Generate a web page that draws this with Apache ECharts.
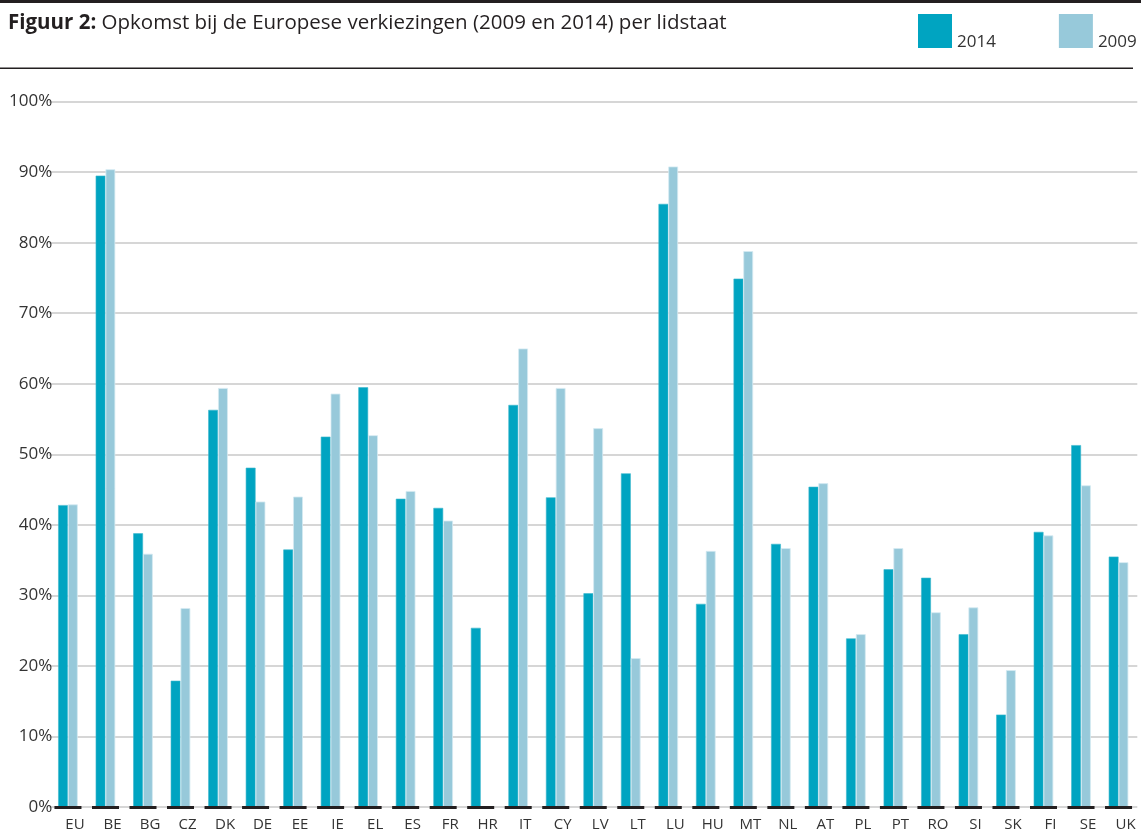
<!DOCTYPE html>
<html>
<head>
<meta charset="utf-8">
<script src="https://cdn.jsdelivr.net/npm/echarts@6/dist/echarts.min.js"></script>
<style>
html,body{margin:0;padding:0;background:#fff;}
#chart{width:1141px;height:832px;}
</style>
</head>
<body>
<div id="chart"></div>
<script>
const categories = ['EU','BE','BG','CZ','DK','DE','EE','IE','EL','ES','FR','HR','IT','CY','LV','LT','LU','HU','MT','NL','AT','PL','PT','RO','SI','SK','FI','SE','UK'];
const turnout2014 = [42.8,89.5,38.8,17.9,56.3,48.1,36.5,52.5,59.5,43.7,42.4,25.4,57.0,43.9,30.3,47.3,85.5,28.8,74.9,37.3,45.4,23.9,33.7,32.5,24.5,13.1,39.0,51.3,35.5];
const turnout2009 = [42.9,90.4,35.9,28.2,59.4,43.3,44.0,58.6,52.7,44.8,40.6,null,65.0,59.4,53.7,21.1,90.8,36.3,78.8,36.7,45.9,24.5,36.7,27.6,28.3,19.4,38.5,45.6,34.7];
const seriesNames = ['2014','2009'];
const yTicks = {min:0, max:100, interval:10};
const titleMain = 'Figuur 2:';
const titleRest = ' Opkomst bij de Europese verkiezingen (2009 en 2014) per lidstaat';

const FONT = '"Open Sans", sans-serif';
const chart = echarts.init(document.getElementById('chart'));
chart.setOption({
  animation:false,
  backgroundColor:'#fff',
  textStyle:{fontFamily:FONT},
  title:{
    left:8, top:13, padding:0,
    text:'{b|'+titleMain+'}{n|'+titleRest+'}',
    textStyle:{
      rich:{
        b:{fontFamily:FONT,fontWeight:'bold',fontSize:20.5,color:'#231f20'},
        n:{fontFamily:FONT,fontWeight:'normal',fontSize:20.5,color:'#231f20'}
      }
    }
  },
  graphic:[
    {type:'rect',shape:{x:0,y:0,width:1141,height:3},style:{fill:'#231f20'}},
    {type:'rect',shape:{x:0,y:67.5,width:1133,height:1.6},style:{fill:'#231f20'}}
  ],
  legend:{
    data:seriesNames,
    left:918, top:14, padding:0,
    itemWidth:34, itemHeight:34, itemGap:63,
    icon:'rect',
    itemStyle:{borderWidth:0},
    formatter:'{a|{name}}',
    textStyle:{fontFamily:FONT,fontSize:17,color:'#333',
      rich:{a:{fontFamily:FONT,fontSize:17,color:'#333',padding:[22,0,0,0]}}}
  },
  grid:{left:49.2, right:3.7, top:101.6, bottom:23.7},
  xAxis:{
    type:'category',
    data:categories,
    axisLine:{show:false},
    axisTick:{show:false},
    axisLabel:{color:'#333',fontSize:15,margin:10,fontFamily:FONT,padding:[0,0,0,14]}
  },
  yAxis:{
    type:'value',
    min:yTicks.min, max:yTicks.max, interval:yTicks.interval,
    axisLine:{show:false},
    axisTick:{show:false},
    axisLabel:{color:'#333',fontSize:17,margin:-3,fontFamily:FONT,formatter:'{value}%',padding:[8,0,0,0]},
    splitLine:{lineStyle:{color:'#c8c8c8',width:1.5}}
  },
  series:[
    {name:seriesNames[0],type:'bar',data:turnout2014,barWidth:9.8,barGap:'0%',
     itemStyle:{color:'#00a4c1',borderColor:'#3cb7cd',borderWidth:0.6}},
    {name:seriesNames[1],type:'bar',data:turnout2009,barWidth:9.8,
     itemStyle:{color:'#97c9da',borderColor:'#d4eaf1',borderWidth:0.8}},
    {name:'axis',type:'custom',z:5,silent:true,
     data:categories.map((c,i)=>[i,0]),
     encode:{x:0,y:1},
     renderItem:function(params,api){
       const p = api.coord([api.value(0),0]);
       const w = api.size([1,0])[0]*0.72;
       return {type:'rect',shape:{x:p[0]-w/2,y:p[1]-1,width:w,height:3},style:{fill:'#231f20'}};
     }}
  ]
});
</script>
</body>
</html>
